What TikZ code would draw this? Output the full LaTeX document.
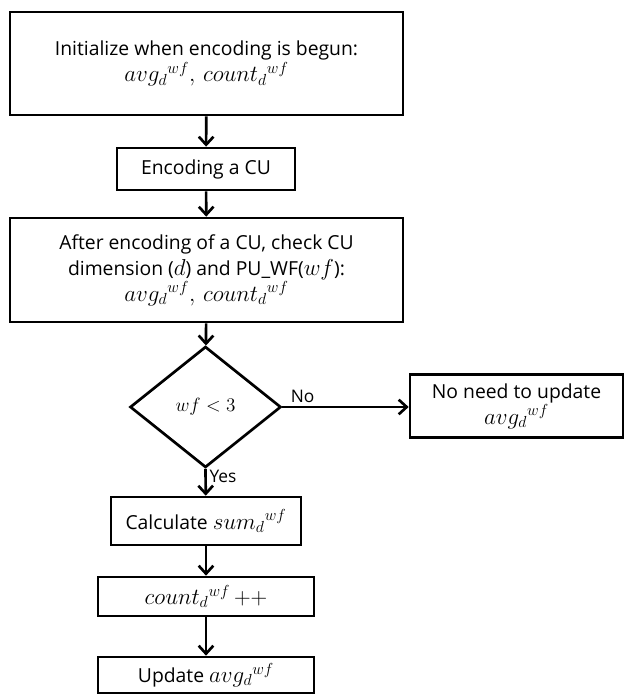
\documentclass[tikz,border=0pt]{standalone}
\usepackage{fontspec}
\setmainfont{Open Sans}
\usetikzlibrary{shapes,arrows.meta}

\newcommand{\vr}[1]{{\fontsize{16.5}{18}\selectfont$#1$}}

\tikzset{
  block/.style={rectangle, draw=black, line width=2pt, align=center, inner sep=2pt, font=\fontsize{14.5}{19.5}\selectfont},
  decision/.style={diamond, draw=black, line width=2pt, inner sep=0pt, font=\fontsize{13.5}{16}\selectfont},
  flow/.style={line width=2pt, -{Straight Barb[length=6pt,width=11pt]}},
  tag/.style={font=\fontsize{13}{15}\selectfont, inner sep=2pt}
}

\begin{document}
\begin{tikzpicture}[x=0.75pt, y=-0.75pt]
\useasboundingbox (0,0) rectangle (625,695);

\node[block, minimum width=294.75pt, minimum height=77.25pt] (init) at (206.5,63.5)
  {Initialize when encoding is begun:\\ \vr{avg_d{}^{wf},\, count_d{}^{wf}}};
\node[block, minimum width=133.5pt, minimum height=31.5pt] (enc) at (206,169) {Encoding a CU};
\node[block, minimum width=294.75pt, minimum height=78pt] (check) at (206.5,270)
  {After encoding of a CU, check CU\\ dimension (\vr{d}) and PU\_WF(\vr{wf}):\\ \vr{avg_d{}^{wf},\, count_d{}^{wf}}};
\node[decision, minimum width=113.25pt, minimum height=90.75pt] (dec) at (205.5,407) {$wf<3$};
\node[block, minimum width=159.75pt, minimum height=47.25pt] (noup) at (516.5,406)
  {No need to update\\ \vr{avg_d{}^{wf}}};
\node[block, minimum width=142.5pt, minimum height=36pt] (sum) at (206,521) {Calculate \vr{sum_d{}^{wf}}};
\node[block, minimum width=162pt, minimum height=29.25pt] (cnt) at (206,596.5) {\vr{count_d{}^{wf}\,{+}{+}}};
\node[block, minimum width=162pt, minimum height=27pt] (upd) at (206,675) {Update \vr{avg_d{}^{wf}}};

% connectors
\draw[flow] (init) -- (enc);
\draw[flow] (enc) -- (check);
\draw[flow] (check) -- (dec);
\draw[flow] (dec.east) -- node[tag, pos=0.16, above] {No} (dec.east -| noup.west);
\draw[flow] (dec.south) -- node[tag, pos=0.3, right] {Yes} (sum);
\draw[flow] (sum) -- (cnt);
\draw[flow] (cnt) -- (upd);
\end{tikzpicture}
\end{document}
